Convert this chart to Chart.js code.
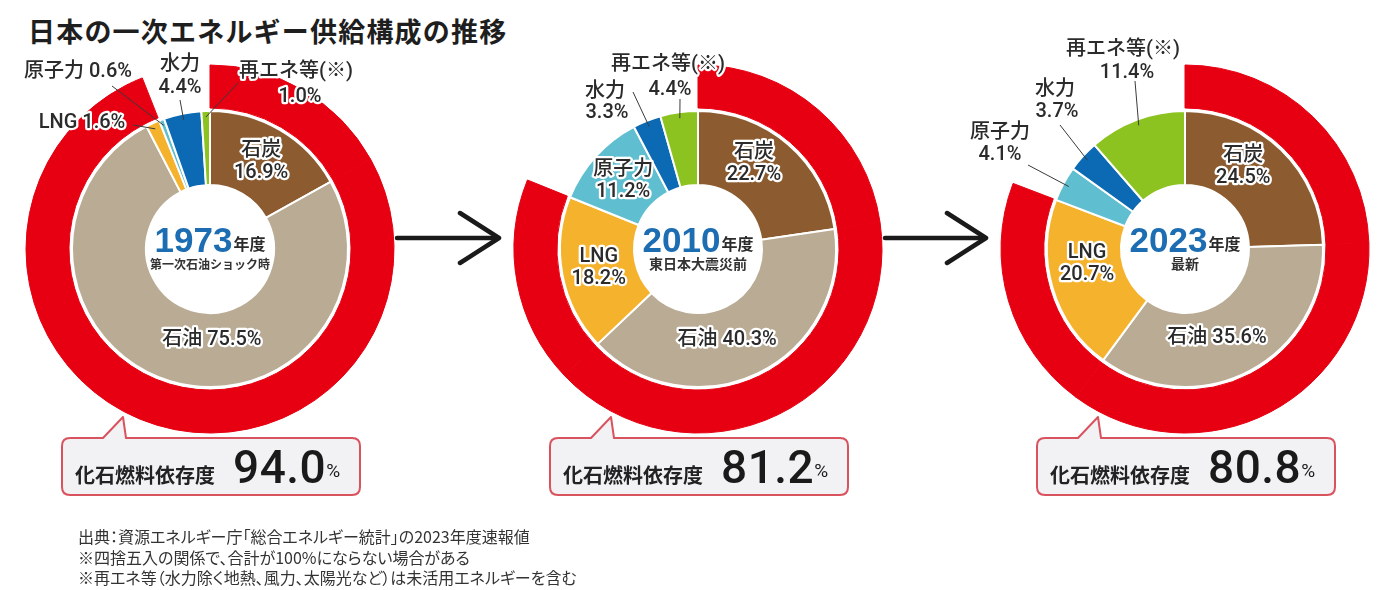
<!DOCTYPE html>
<html lang="ja">
<head>
<meta charset="utf-8">
<script src="https://cdn.jsdelivr.net/npm/chart.js@4.4.1/dist/chart.umd.min.js"></script>
<style>
html,body{margin:0;padding:0;background:#fff;}
body{width:1398px;height:590px;position:relative;overflow:hidden;font-family:"Liberation Sans","Noto Sans CJK JP",sans-serif;color:#222;}
#title{position:absolute;left:28px;top:12px;font-size:27px;font-weight:bold;letter-spacing:1.2px;line-height:38px;white-space:nowrap;font-family:"Noto Sans CJK JP",sans-serif;color:#1e1e1e;}
canvas{position:absolute;}
#deco{position:absolute;left:0;top:0;}
.cl{position:absolute;top:445px;height:50px;line-height:50px;white-space:nowrap;font-size:20px;}
.cl .k{font-family:"Noto Sans CJK JP",sans-serif;font-weight:bold;color:#222;font-size:20px;}
.cl .n{font-family:Roboto,"Liberation Sans",sans-serif;font-weight:500;font-size:46px;line-height:44px;letter-spacing:0.5px;color:#1a1a1a;}
.cl .p{font-family:Roboto,"Liberation Sans",sans-serif;font-size:19px;position:relative;top:-6px;color:#1a1a1a;}
#notes{position:absolute;left:78px;top:526px;font-size:16px;line-height:20.5px;color:#333;font-family:"Noto Sans CJK JP",sans-serif;white-space:nowrap;font-feature-settings:"palt";}
</style>
</head>
<body>
<div id="title">日本の一次エネルギー供給構成の推移</div>
<svg id="deco" width="1398" height="590" xmlns="http://www.w3.org/2000/svg"></svg>
<div id="notes"></div>
<script>
// ---------- data ----------
const categories = ['石炭', '石油', 'LNG', '原子力', '水力', '再エネ等(※)'];
const fiscalYears = ['1973', '2010', '2023'];
const yearNotes = ['第一次石油ショック時', '東日本大震災前', '最新'];
const supply1973 = [16.9, 75.5, 1.6, 0.6, 4.4, 1.0];
const supply2010 = [22.7, 40.3, 18.2, 11.2, 3.3, 4.4];
const supply2023 = [24.5, 35.6, 20.7, 4.1, 3.7, 11.4];
const isFossil = [true, true, true, false, false, false];
const fossilDependency = [94.0, 81.2, 80.8];
const dependencyLabel = '化石燃料依存度';
const yearSuffix = '年度';
const footnotes = [
  '出典：資源エネルギー庁「総合エネルギー統計」の2023年度速報値',
  '※四捨五入の関係で、合計が100%にならない場合がある',
  '※再エネ等（水力除く地熱、風力、太陽光など）は未活用エネルギーを含む'
];

// ---------- styles / layout ----------
const segColors = ['#8c5b2f', '#b9ab94', '#f5b22d', '#5fbfd0', '#0b6ab3', '#8cc320'];
const RED = '#e60012';
const chartCenters = [210, 698, 1185];
const CY = 249;
const CANVAS = 440;
const subtitleSizes = [12, 14, 14];
const labelLayout = [
  { // 1973
    0: {in: true, two: true},
    1: {in: true, two: false, nudge: [31, -6]},
    2: {out: [[-128, -126]], two: false, from: [-77, -124]},
    3: {out: [[-132, -177]], two: false, from: [-98, -163]},
    4: {out: [[-30, -184], [-30, -161]], two: true, from: [-30, -149]},
    5: {out: [[86, -177], [90, -152]], two: true, from: [28, -166]}
  },
  { // 2010
    0: {in: true, two: true, nudge: [-10, -9]},
    1: {in: true, two: false, nudge: [-15, 0]},
    2: {in: true, two: true},
    3: {in: true, two: true},
    4: {out: [[-93, -157], [-91, -136]], two: true, from: [-65, -157]},
    5: {out: [[-30, -184], [-28, -159]], two: true, from: [-18, -150]}
  },
  { // 2023
    0: {in: true, two: true, nudge: [-12, -9]},
    1: {in: true, two: false, nudge: [-15, 0]},
    2: {in: true, two: true, nudge: [-1, -13]},
    3: {out: [[-185, -116], [-185, -94]], two: true, from: [-157, -84]},
    4: {out: [[-130, -159], [-128, -137]], two: true, from: [-125, -124]},
    5: {out: [[-62, -199], [-58, -176]], two: true, from: [-50, -168]}
  }
];

const LABEL_FONT = '500 20px Roboto, "Noto Sans CJK JP", sans-serif';

const labelPlugin = {
  id: 'segLabels',
  afterDatasetsDraw(chart, args, opts) {
    const k = opts.idx;
    const layout = labelLayout[k];
    const values = chart.data.datasets[2].data;
    const meta = chart.getDatasetMeta(2);
    const ctx = chart.ctx;
    ctx.save();
    ctx.textAlign = 'center';
    ctx.textBaseline = 'middle';
    ctx.lineJoin = 'round';
    let cx = 0, cy = 0;
    meta.data.forEach((arc, i) => {
      const p = arc.getProps(['x', 'y', 'startAngle', 'endAngle', 'innerRadius', 'outerRadius'], true);
      cx = p.x; cy = p.y;
      const mid = (p.startAngle + p.endAngle) / 2;
      const L = layout[i];
      const pct = values[i].toFixed(1) + '%';
      const texts = L.two ? [categories[i], pct] : [categories[i] + ' ' + pct];
      let pts;
      if (L.in) {
        const r = (p.innerRadius + p.outerRadius) / 2;
        const nx = L.nudge ? L.nudge[0] : 0, ny = L.nudge ? L.nudge[1] : 0;
        const x = p.x + Math.cos(mid) * r + nx, y = p.y + Math.sin(mid) * r + ny;
        pts = texts.length === 2 ? [[x, y - 11], [x, y + 11]] : [[x, y]];
      } else {
        pts = L.out.map(o => [p.x + o[0], p.y + o[1]]);
        const r = p.outerRadius - 6;
        ctx.beginPath();
        ctx.moveTo(p.x + L.from[0], p.y + L.from[1]);
        ctx.lineTo(p.x + Math.cos(mid) * r, p.y + Math.sin(mid) * r);
        ctx.strokeStyle = '#3a3a3a';
        ctx.lineWidth = 1;
        ctx.stroke();
      }
      ctx.font = LABEL_FONT;
      texts.forEach((t, j) => {
        ctx.strokeStyle = '#ffffff';
        ctx.lineWidth = 4.5;
        ctx.strokeText(t, pts[j][0], pts[j][1]);
        ctx.fillStyle = '#2b2b2b';
        ctx.fillText(t, pts[j][0], pts[j][1]);
      });
    });
    // centre text
    ctx.textBaseline = 'alphabetic';
    ctx.textAlign = 'left';
    const yearFont = 'bold 35px "Liberation Sans", sans-serif';
    const sufFont = 'bold 16px "Noto Sans CJK JP", sans-serif';
    ctx.font = yearFont;
    const wy = ctx.measureText(fiscalYears[k]).width;
    ctx.font = sufFont;
    const ws = ctx.measureText(yearSuffix).width;
    const x0 = cx - (wy + ws + 1) / 2;
    ctx.font = yearFont;
    ctx.fillStyle = '#1c6db2';
    ctx.fillText(fiscalYears[k], x0, cy + 3);
    ctx.font = sufFont;
    ctx.fillStyle = '#2b2b2b';
    ctx.fillText(yearSuffix, x0 + wy + 1, cy + 1);
    ctx.textAlign = 'center';
    ctx.textBaseline = 'middle';
    ctx.font = 'bold ' + subtitleSizes[k] + 'px "Noto Sans CJK JP", sans-serif';
    ctx.fillStyle = '#333';
    ctx.fillText(yearNotes[k], cx, cy + 15);
    ctx.restore();
  }
};

[supply1973, supply2010, supply2023].forEach((vals, k) => {
  const cv = document.createElement('canvas');
  cv.width = CANVAS; cv.height = CANVAS;
  cv.style.width = CANVAS + 'px'; cv.style.height = CANVAS + 'px';
  cv.style.left = (chartCenters[k] - CANVAS / 2) + 'px';
  cv.style.top = (CY - CANVAS / 2) + 'px';
  document.body.insertBefore(cv, document.getElementById('deco'));
  new Chart(cv, {
    type: 'doughnut',
    data: {
      labels: categories,
      datasets: [
        {data: vals,
         backgroundColor: vals.map((v, i) => isFossil[i] ? RED : 'rgba(0,0,0,0)'),
         borderColor: vals.map((v, i) => isFossil[i] ? RED : 'rgba(0,0,0,0)'),
         borderWidth: vals.map((v, i) => isFossil[i] ? 1 : 0),
         weight: 43},
        {data: vals, backgroundColor: 'rgba(0,0,0,0)', borderWidth: 0, weight: 3},
        {data: vals, backgroundColor: segColors, borderColor: '#ffffff', borderWidth: 2, weight: 74}
      ]
    },
    options: {
      responsive: false,
      animation: false,
      events: [],
      radius: 184,
      cutout: '34.78%',
      layout: {padding: 0},
      plugins: {legend: {display: false}, tooltip: {enabled: false}, segLabels: {idx: k}}
    },
    plugins: [labelPlugin]
  });
});

// ---------- decorations: arrows & callouts ----------
const NS = 'http://www.w3.org/2000/svg';
const svg = document.getElementById('deco');
function add(tag, attrs) {
  const e = document.createElementNS(NS, tag);
  for (const a in attrs) e.setAttribute(a, attrs[a]);
  svg.appendChild(e);
  return e;
}
for (let k = 0; k < 2; k++) {
  const a = chartCenters[k] + 187, b = chartCenters[k + 1] - 200;
  add('path', {d: `M${a} 238 H${b}`, stroke: '#1a1a1a', 'stroke-width': 4.5, 'stroke-linecap': 'round', fill: 'none'});
  add('path', {d: `M${b - 38} 213 L${b + 1} 238 L${b - 38} 263`, stroke: '#1a1a1a', 'stroke-width': 4.5, 'stroke-linecap': 'round', 'stroke-linejoin': 'round', fill: 'none'});
}
fossilDependency.forEach((v, k) => {
  const cx = chartCenters[k];
  const x0 = cx - 148, x1 = cx + 150, y0 = 438, y1 = 495, r = 8;
  const b0 = cx - 107, b1 = cx - 84, tx = cx - 87, ty = 417;
  const d = `M${x0 + r} ${y0} L${b0} ${y0} L${tx} ${ty} L${b1} ${y0} L${x1 - r} ${y0} Q${x1} ${y0} ${x1} ${y0 + r} L${x1} ${y1 - r} Q${x1} ${y1} ${x1 - r} ${y1} L${x0 + r} ${y1} Q${x0} ${y1} ${x0} ${y1 - r} L${x0} ${y0 + r} Q${x0} ${y0} ${x0 + r} ${y0} Z`;
  add('path', {d, fill: '#f2f2f4', stroke: '#d9535f', 'stroke-width': 2, 'stroke-linejoin': 'round'});
  const div = document.createElement('div');
  div.className = 'cl';
  div.style.left = (cx - 135) + 'px';
  const sk = document.createElement('span'); sk.className = 'k'; sk.textContent = dependencyLabel;
  const sn = document.createElement('span'); sn.className = 'n'; sn.textContent = v.toFixed(1); sn.style.marginLeft = '18px';
  const sp = document.createElement('span'); sp.className = 'p'; sp.textContent = '%';
  div.appendChild(sk); div.appendChild(sn); div.appendChild(sp);
  document.body.appendChild(div);
});
document.getElementById('notes').innerHTML = footnotes.map(t => '<div>' + t + '</div>').join('');
</script>
</body>
</html>
